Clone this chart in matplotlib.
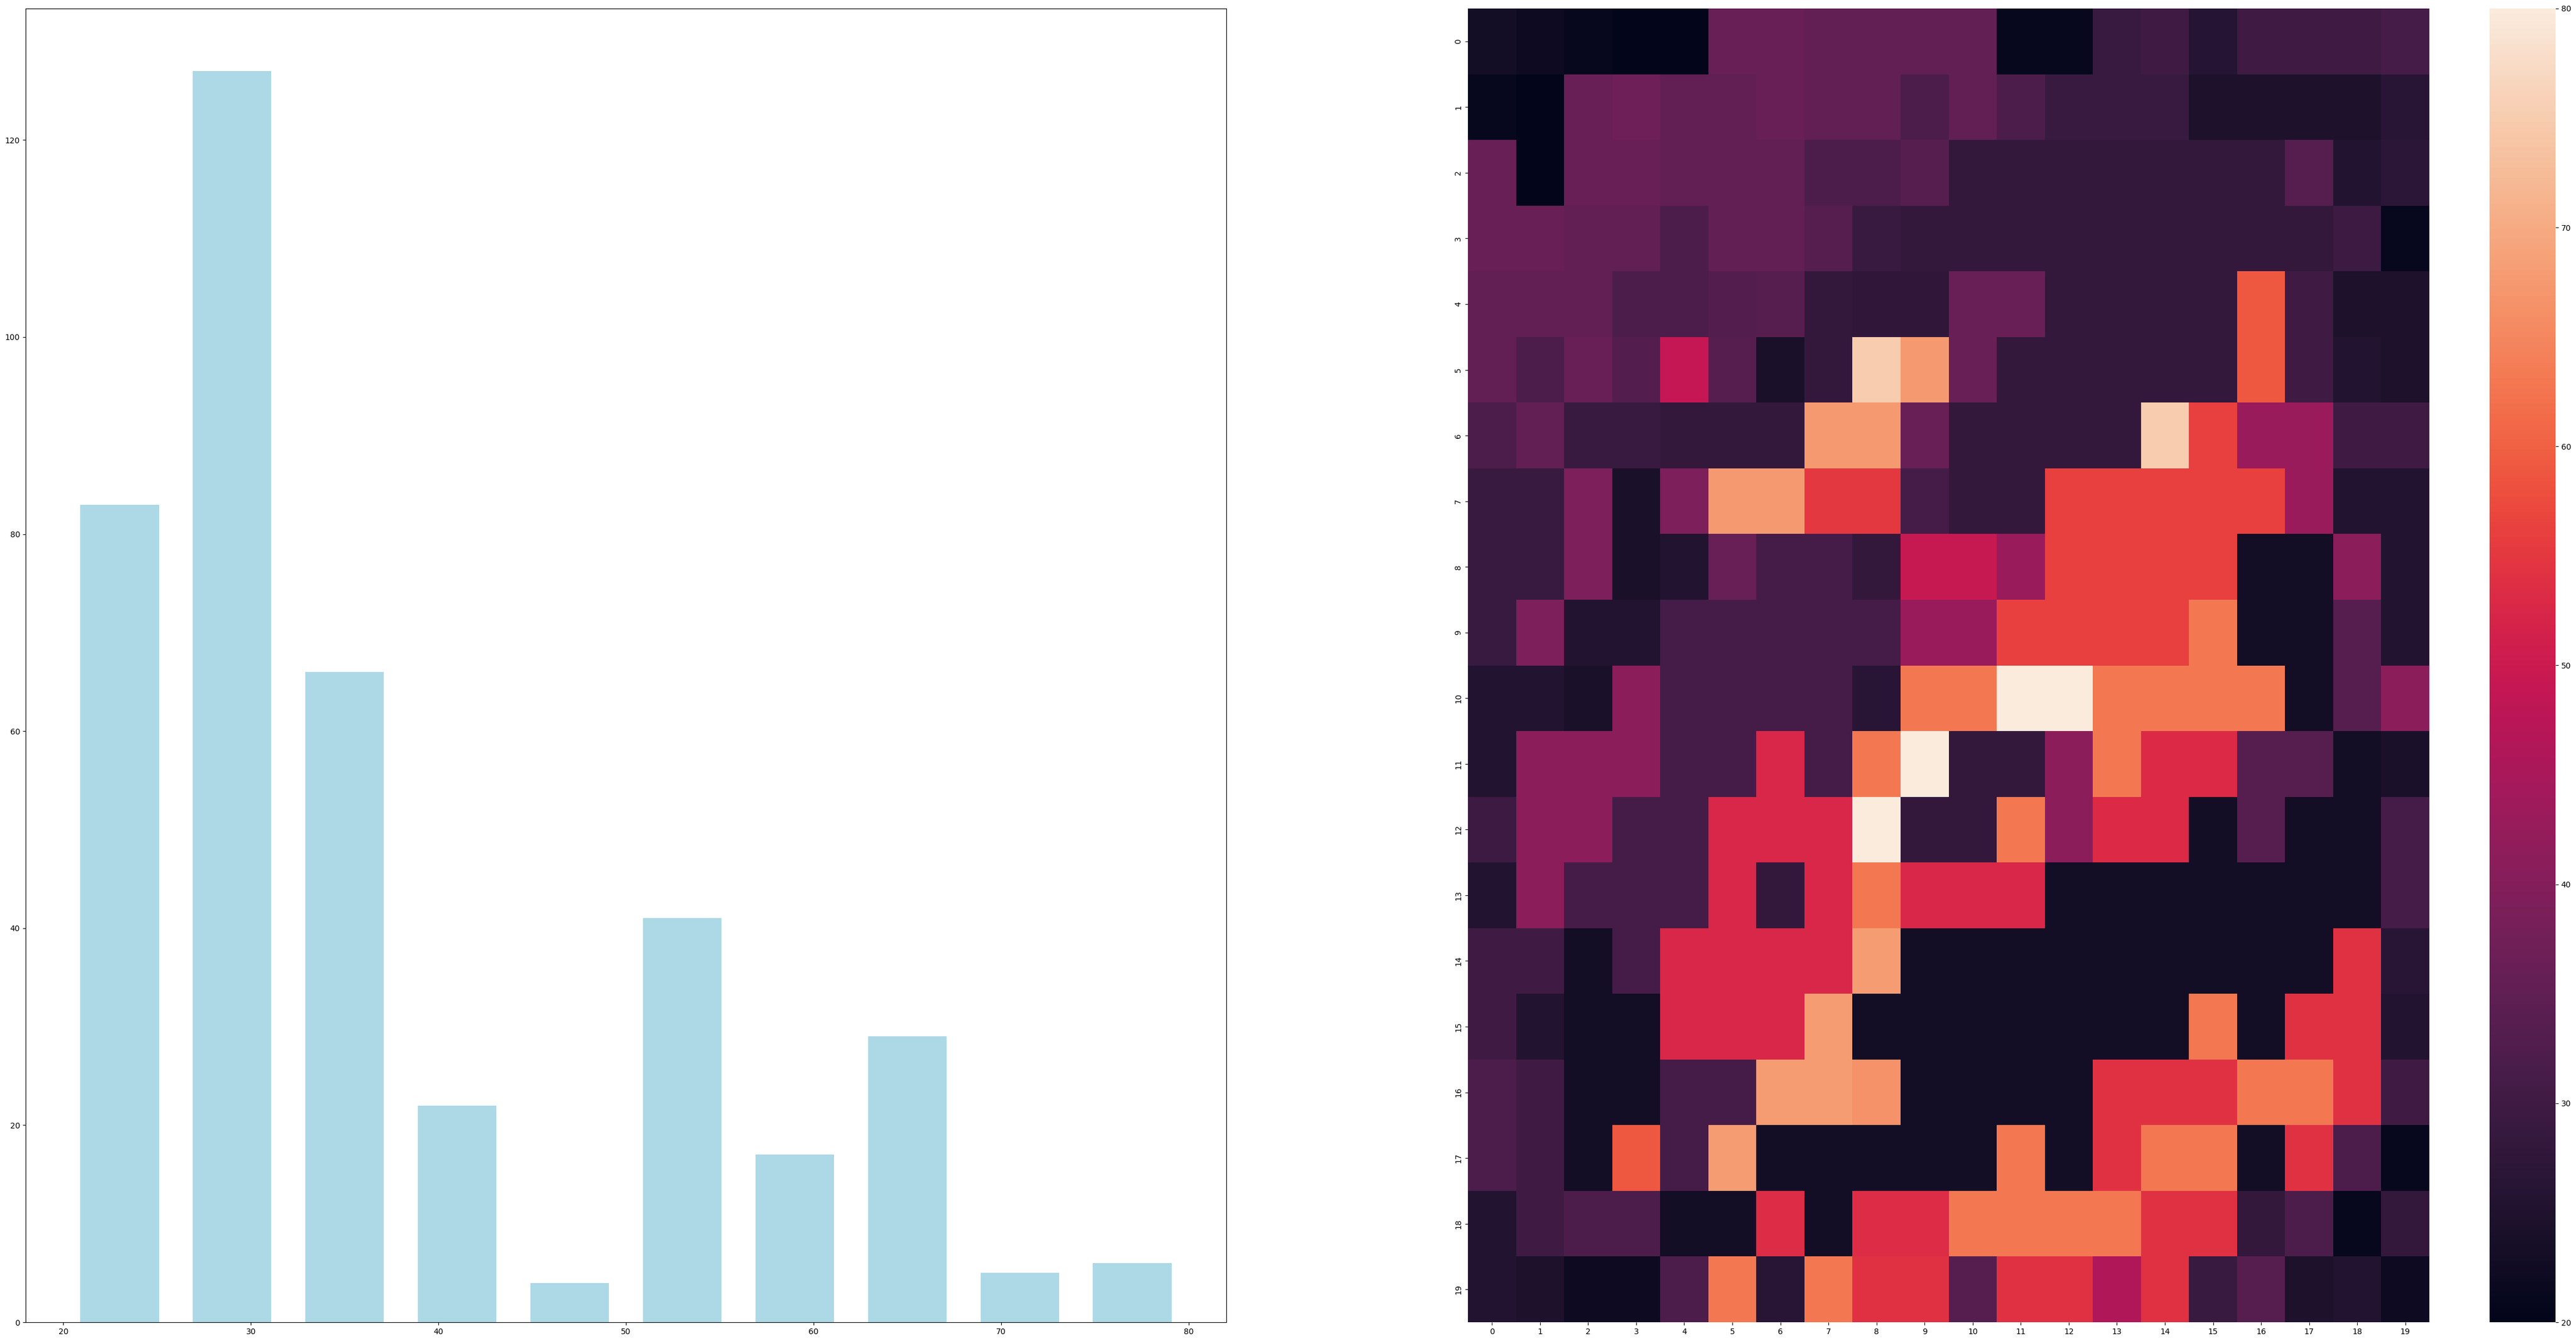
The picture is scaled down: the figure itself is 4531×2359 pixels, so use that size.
import numpy as np
import matplotlib
matplotlib.use("Agg")
import matplotlib.pyplot as plt
import seaborn as sns

# ---- Data ----
bin_edges = [20, 26, 32, 38, 44, 50, 56, 62, 68, 74, 80]
bin_counts = [83, 127, 66, 22, 4, 41, 17, 29, 5, 6]

heat_values = [
    [23, 22, 21, 20, 20, 36, 36, 35, 35, 35, 35, 21, 21, 29, 30, 26, 30, 30, 30, 31],
    [21, 20, 36, 37, 35, 35, 36, 35, 35, 32, 35, 32, 29, 29, 29, 24.5, 24.5, 24.5, 24.5, 26.5],
    [36, 20, 36, 36, 35, 35, 35, 32, 32, 33.5, 28, 28, 28, 28, 28, 28, 28, 33.5, 25.5, 27],
    [36, 36, 35, 35, 32, 35, 35, 33.5, 29, 28, 28, 28, 28, 28, 28, 28, 28, 28, 29.5, 21],
    [35, 35, 35, 32, 32, 33, 33.5, 28, 27.5, 27.5, 36, 36, 28, 28, 28, 28, 59, 30, 24.5, 24.5],
    [35, 32, 36, 33, 49, 33.5, 24, 28, 75, 67.5, 36, 28, 28, 28, 28, 28, 59, 30, 25.5, 24.5],
    [32, 35, 29, 29, 28, 28, 28, 67.5, 67.5, 36, 28, 28, 28, 28, 75, 56, 43, 43, 30, 30],
    [29, 29, 39, 24, 39, 67.5, 67.5, 55, 55, 31, 28, 28, 56, 56, 56, 56, 56, 43, 25.5, 25.5],
    [29, 29, 39, 24, 25.5, 36, 31, 31, 28, 49.5, 49.5, 43, 56, 56, 56, 56, 23, 23, 41, 25.5],
    [29, 39, 25.5, 25.5, 31, 31, 31, 31, 31, 43, 43, 56, 56, 56, 56, 63, 23, 23, 33.5, 25.5],
    [25.5, 25.5, 24, 41, 31, 31, 31, 31, 26.5, 63, 63, 80, 80, 63, 63, 63, 63, 23, 33.5, 41],
    [25.5, 41, 41, 41, 31, 31, 52.5, 31, 63, 80, 28, 28, 41, 63, 53, 53, 33.5, 33.5, 23, 24],
    [29.5, 41, 41, 31, 31, 52.5, 52.5, 52.5, 80, 28, 28, 63, 41, 53, 53, 23, 33.5, 23, 23, 31],
    [25.5, 41, 31, 31, 31, 52.5, 28, 52.5, 63, 52.5, 52.5, 52.5, 23, 23, 23, 23, 23, 23, 23, 31],
    [30, 30, 23, 31, 52.5, 52.5, 52.5, 52.5, 68, 23, 23, 23, 23, 23, 23, 23, 23, 23, 54, 26.5],
    [30, 25.5, 23, 23, 52.5, 52.5, 52.5, 68, 23, 23, 23, 23, 23, 23, 23, 63, 23, 54, 54, 25.5],
    [32, 30, 23, 23, 31, 31, 68, 68, 66.5, 23, 23, 23, 23, 54, 54, 54, 63, 63, 54, 30],
    [32, 30, 23, 59, 31, 68, 23, 23, 23, 23, 23, 63, 23, 54, 63, 63, 23, 54, 32, 21],
    [25.5, 30, 32, 32, 23, 23, 53.5, 23, 53.5, 53.5, 63, 63, 63, 63, 54, 54, 28, 32, 21, 28],
    [25.5, 24.5, 22, 22, 32, 63, 26.5, 63, 54, 54, 33.5, 54, 54, 46, 54, 29, 33.5, 24.5, 25.5, 22],
]

W, H = 4531, 2359
fig = plt.figure(figsize=(W / 100, H / 100), dpi=100)

bottom = 1 - 2326 / H
height = (2326 - 15) / H

# Left: histogram-style bars
ax1 = fig.add_axes([45 / W, bottom, (2157 - 45) / W, height])
edges = np.array(bin_edges, dtype=float)
widths = np.diff(edges)
centers = edges[:-1] + widths / 2
ax1.bar(centers, bin_counts, width=widths * 0.7, color="lightblue")

# Right: heatmap with colorbar
ax2 = fig.add_axes([2582 / W, bottom, (4273 - 2582) / W, height])
cax = fig.add_axes([4379 / W, bottom, (4495 - 4379) / W, height])
sns.heatmap(np.array(heat_values), cmap="rocket", vmin=20, vmax=80,
            ax=ax2, cbar_ax=cax)

fig.savefig("out.png", dpi=100)
